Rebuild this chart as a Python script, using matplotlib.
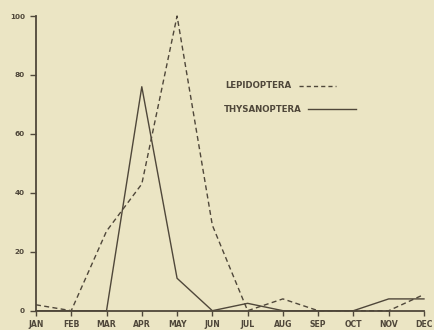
import matplotlib
matplotlib.use("Agg")
import matplotlib.pyplot as plt
from matplotlib.lines import Line2D

months = ["JAN", "FEB", "MAR", "APR", "MAY", "JUN", "JUL", "AUG", "SEP", "OCT", "NOV", "DEC"]
lepidoptera = [2, 0, 27, 43, 100, 29, 0, 4, 0, 0, 0, 5.5]
thysanoptera = [0, 0, 0, 76, 11, 0, 2.5, 0, 0, 0, 4, 4]
y_ticks = [0, 20, 40, 60, 80, 100]
y_ticklabels = ["0", "20", "40", "60", "80", "100"]

bg = "#ebe5c4"
ink = "#4f473a"

plt.rcParams["lines.scale_dashes"] = False
plt.rcParams["font.family"] = ["DejaVu Sans"]

fig = plt.figure(figsize=(4.34, 3.30), dpi=100, facecolor=bg)
ax = fig.add_axes([0.0829, 0.0585, 0.894, 0.893])
ax.set_facecolor(bg)

x = list(range(len(months)))
ax.plot(x, lepidoptera, color=ink, lw=1.0, ls=(0, (3.6, 2.4)), clip_on=False)
ax.plot(x, thysanoptera, color=ink, lw=1.0, clip_on=False)

ax.set_xlim(0, len(months) - 1)
ax.set_ylim(0, 100)
ax.set_xticks(x)
ax.set_xticklabels(months)
ax.set_yticks(y_ticks)
ax.set_yticklabels(y_ticklabels)

for s in ["top", "right"]:
    ax.spines[s].set_visible(False)
for s in ["left", "bottom"]:
    ax.spines[s].set_color(ink)
    ax.spines[s].set_linewidth(1.3)

ax.tick_params(axis="x", direction="out", length=3.5, width=1.0, color=ink,
               labelsize=5.6, labelcolor=ink, pad=3.2)
ax.tick_params(axis="y", direction="out", length=4, width=1.0, color=ink,
               labelsize=5.2, labelcolor=ink, pad=4)
for lab in ax.get_xticklabels() + ax.get_yticklabels():
    lab.set_fontweight("bold")

# legend drawn as text plus sample lines
fig.text(225 / 434, 1 - 86 / 330, "LEPIDOPTERA", fontsize=6.2, fontweight="bold",
         color=ink, va="center", ha="left")
fig.add_artist(Line2D([299 / 434, 336 / 434], [1 - 86 / 330, 1 - 86 / 330],
                      color=ink, lw=1.0, ls=(0, (3.0, 2.2)), transform=fig.transFigure))
fig.text(224 / 434, 1 - 109 / 330, "THYSANOPTERA", fontsize=6.2, fontweight="bold",
         color=ink, va="center", ha="left")
fig.add_artist(Line2D([308 / 434, 356 / 434], [1 - 109 / 330, 1 - 109 / 330],
                      color=ink, lw=1.0, transform=fig.transFigure))

fig.savefig("out.png", dpi=100, facecolor=bg)
